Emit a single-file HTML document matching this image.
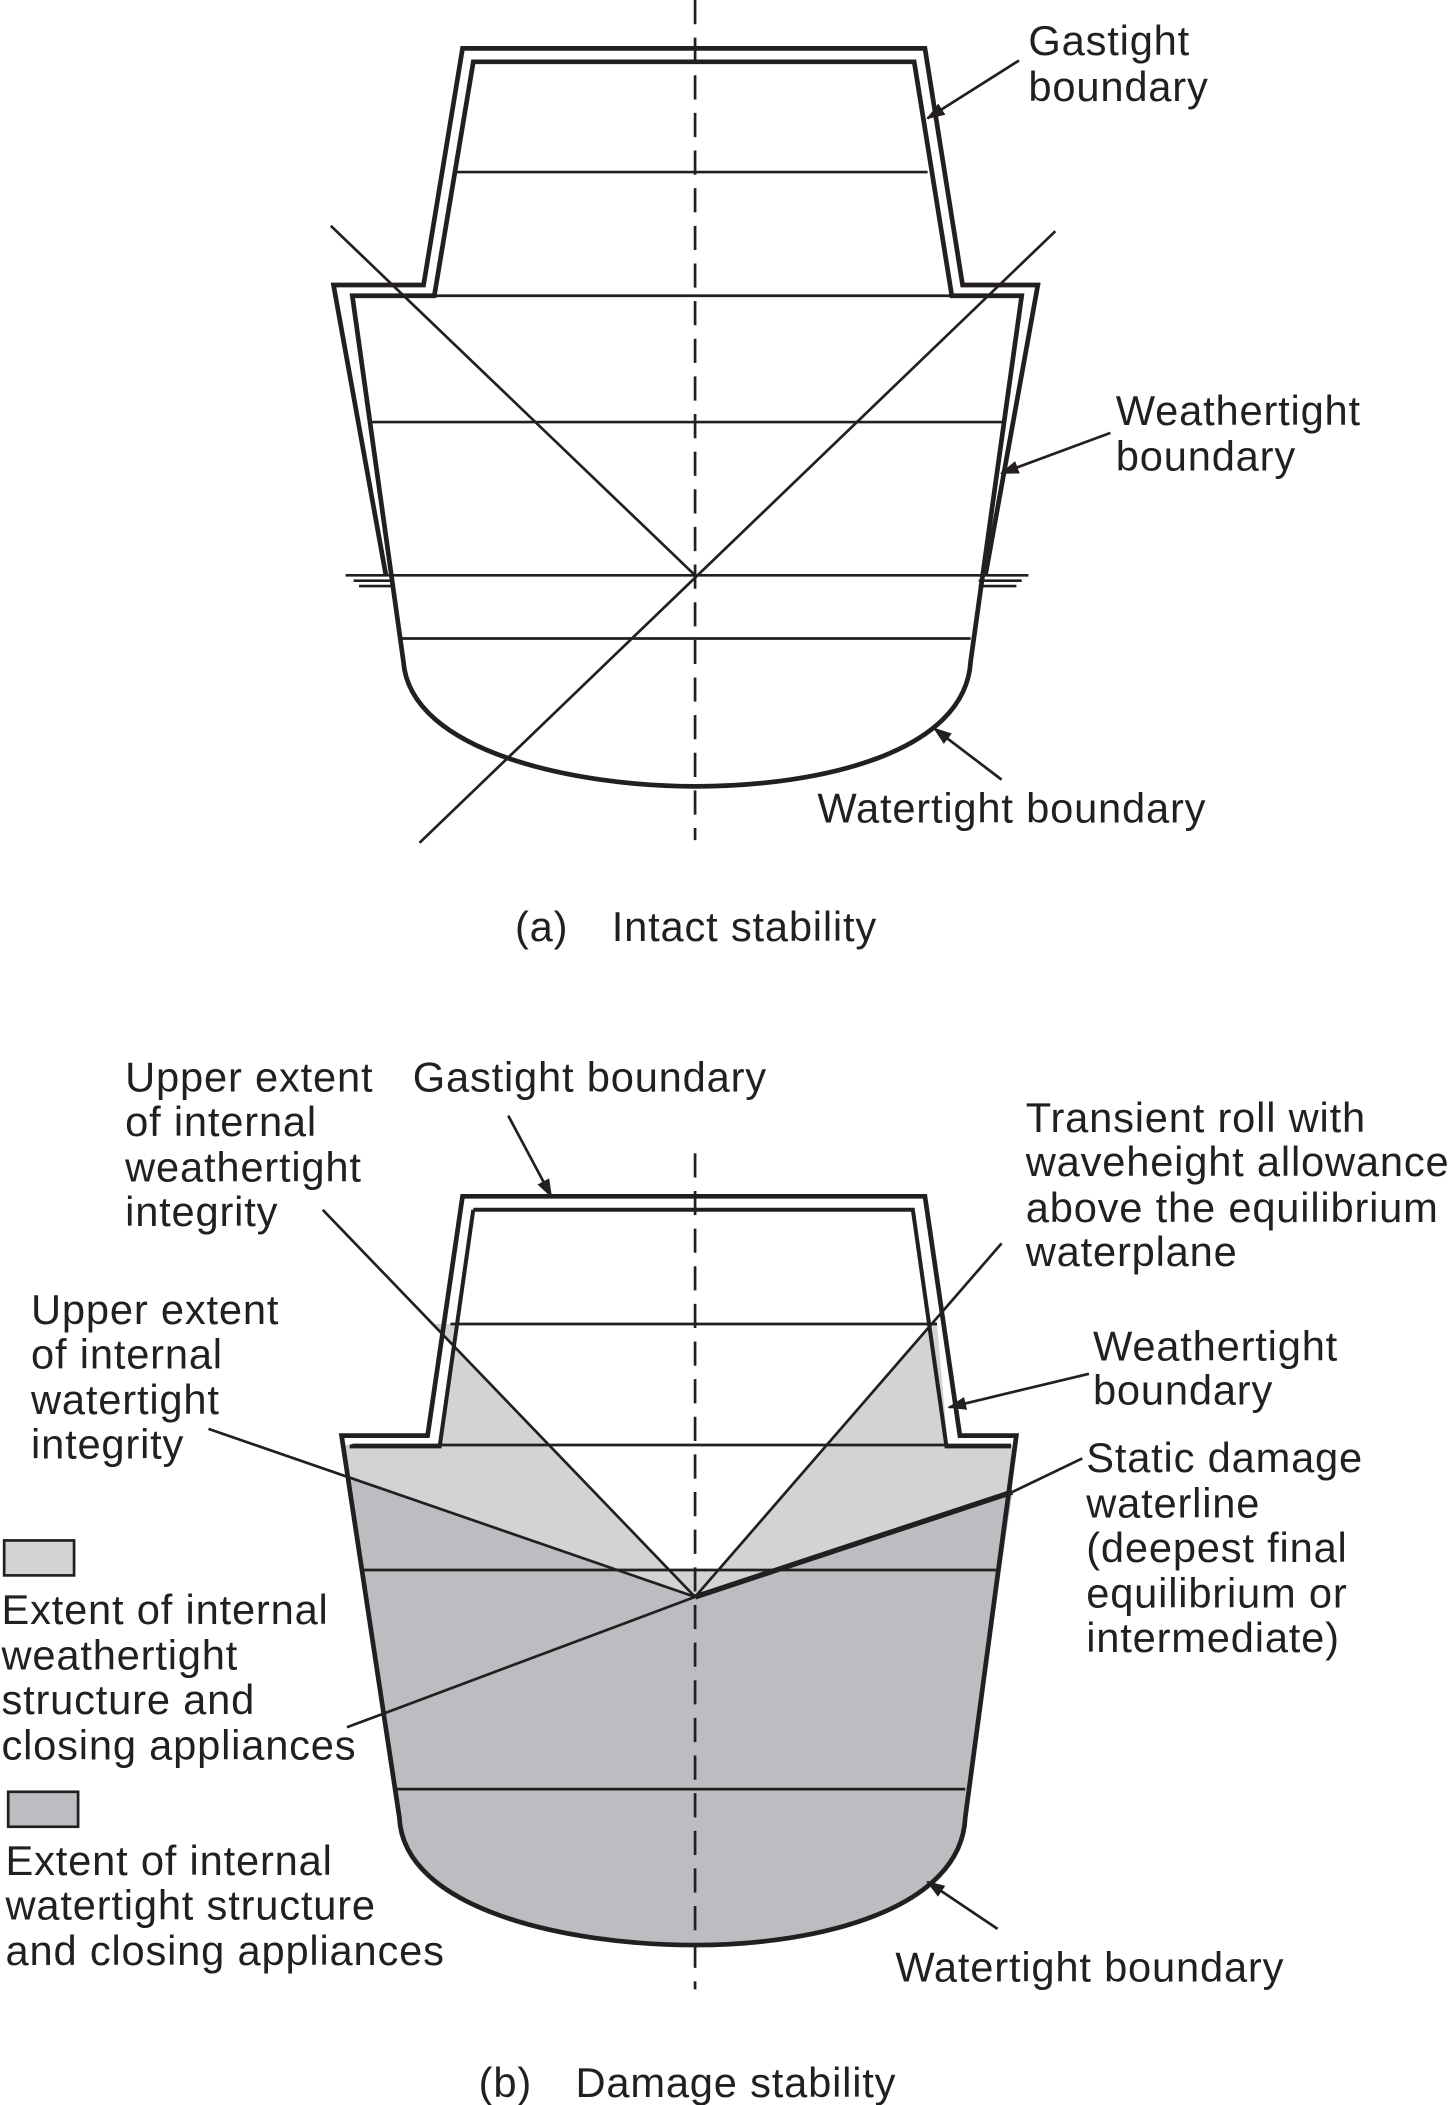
<!DOCTYPE html>
<html><head><meta charset="utf-8"><style>
html,body{margin:0;padding:0;background:#fff;}
svg{display:block;}
text{font-family:"Liberation Sans",sans-serif;font-size:31px;letter-spacing:0.6px;fill:#231f20;}
</style></head><body>
<svg width="1452" height="2105" viewBox="0 0 1080 1566" xmlns="http://www.w3.org/2000/svg">
<defs>
<marker id="arb" viewBox="0 0 10 10" refX="9" refY="5" markerWidth="14" markerHeight="14" markerUnits="userSpaceOnUse" orient="auto"><path d="M0,1.5 L10,5 L0,8.5 z" fill="#231f20"/></marker></defs>
<g stroke="#231f20" fill="none">
<!-- (a) -->
<line x1="517" y1="0" x2="517" y2="625" stroke-dasharray="18,10" stroke-width="2"/>
<path d="M287,428 L248,212 L315,212 L344,36 L688,36 L716,212 L772,212 L733,428" stroke-width="3.5"/>
<path d="M352,46 L680,46 L708,220 L760,220 L722,492 C718,560 610,585 517,585 C430,585 305,560 300,492 L262,220 L323,220 Z" stroke-width="3.5"/>
<g stroke-width="2">
<line x1="338" y1="128" x2="690" y2="128"/>
<line x1="262" y1="220" x2="760" y2="220"/>
<line x1="274" y1="314" x2="746" y2="314"/>
<line x1="257" y1="428" x2="765" y2="428"/>
<line x1="263" y1="432" x2="292" y2="432"/><line x1="267" y1="436" x2="292" y2="436"/>
<line x1="728" y1="432" x2="760" y2="432"/><line x1="728" y1="436" x2="756" y2="436"/>
<line x1="298" y1="475" x2="722" y2="475"/>
<line x1="246" y1="168" x2="517" y2="428"/>
<line x1="312" y1="627" x2="785" y2="172"/>
<line x1="758" y1="45" x2="690" y2="88" marker-end="url(#arb)"/>
<line x1="826" y1="322" x2="745" y2="352" marker-end="url(#arb)"/>
<line x1="745" y1="580" x2="695" y2="542" marker-end="url(#arb)"/>
</g>
</g>
<g fill="#231f20" stroke="none">
<text x="765" y="41">Gastight</text><text x="765" y="75">boundary</text>
<text x="830" y="316">Weathertight</text><text x="830" y="350">boundary</text>
<text x="608" y="612">Watertight boundary</text>
<text x="383" y="700">(a)</text><text x="455" y="700">Intact stability</text>
</g>

<!-- (b) -->
<path d="M258,1097 L517,1188 L753,1110 L718,1352 C715,1420 610,1447 517,1447 C420,1447 300,1420 297,1352 Z" fill="#bcbdc0"/>
<polygon points="517,1188 322,985 338,985 327,1075 256,1075 258,1097" fill="#d2d3d5"/>
<polygon points="517,1188 693,985 697,985 705,1075 754,1075 753,1110" fill="#d2d3d5"/>
<polygon points="499,1168 535,1168 517,1188" fill="#d2d3d5"/>
<g stroke="#231f20" fill="none">
<line x1="517" y1="858" x2="517" y2="1480" stroke-dasharray="18,10" stroke-width="2"/>
<path d="M344,890 L688,890 L714,1068 L756,1068 L718,1352 C715,1420 610,1447 517,1447 C420,1447 300,1420 297,1352 L254,1068 L318,1068 Z" stroke-width="3.5"/>
<path d="M352,900 L679,900 L704,1076 L752,1076" stroke-width="3"/>
<path d="M352,900 L327,1076 L260,1076" stroke-width="3"/>
<g stroke-width="2">
<line x1="335" y1="985" x2="697" y2="985"/>
<line x1="262" y1="1075" x2="752" y2="1075"/>
<line x1="270" y1="1168" x2="742" y2="1168"/>
<line x1="295" y1="1331" x2="718" y2="1331"/>
<line x1="240" y1="900" x2="517" y2="1188"/>
<line x1="745" y1="925" x2="517" y2="1188"/>
<line x1="155" y1="1063" x2="517" y2="1188"/>
<line x1="258" y1="1285" x2="517" y2="1188"/>
<line x1="753" y1="1110" x2="805" y2="1085"/>
<line x1="378" y1="830" x2="410" y2="890" marker-end="url(#arb)"/>
<line x1="810" y1="1022" x2="706" y2="1047" marker-end="url(#arb)"/>
<line x1="742" y1="1435" x2="690" y2="1400" marker-end="url(#arb)"/>
</g>
<line x1="517" y1="1188" x2="753" y2="1110" stroke-width="4"/>
<rect x="3" y="1146" width="52" height="26" fill="#d2d3d5" stroke-width="2"/>
<rect x="6" y="1333" width="52" height="26" fill="#bcbdc0" stroke-width="2"/>
</g>
<g fill="#231f20" stroke="none">
<text x="93" y="812">Upper extent</text><text x="93" y="845">of internal</text><text x="93" y="879">weathertight</text><text x="93" y="912">integrity</text>
<text x="307" y="812">Gastight boundary</text>
<text x="763" y="842">Transient roll with</text><text x="763" y="875">waveheight allowance</text><text x="763" y="909">above the equilibrium</text><text x="763" y="942">waterplane</text>
<text x="23" y="985">Upper extent</text><text x="23" y="1018">of internal</text><text x="23" y="1052">watertight</text><text x="23" y="1085">integrity</text>
<text x="813" y="1012">Weathertight</text><text x="813" y="1045">boundary</text>
<text x="808" y="1095">Static damage</text><text x="808" y="1129">waterline</text><text x="808" y="1162">(deepest final</text><text x="808" y="1196">equilibrium or</text><text x="808" y="1229">intermediate)</text>
<text x="1" y="1208">Extent of internal</text><text x="1" y="1242">weathertight</text><text x="1" y="1275">structure and</text><text x="1" y="1309">closing appliances</text>
<text x="4" y="1395">Extent of internal</text><text x="4" y="1428">watertight structure</text><text x="4" y="1462">and closing appliances</text>
<text x="666" y="1474">Watertight boundary</text>
<text x="356" y="1560">(b)</text><text x="428" y="1560">Damage stability</text>
</g>
</svg>
</body></html>
